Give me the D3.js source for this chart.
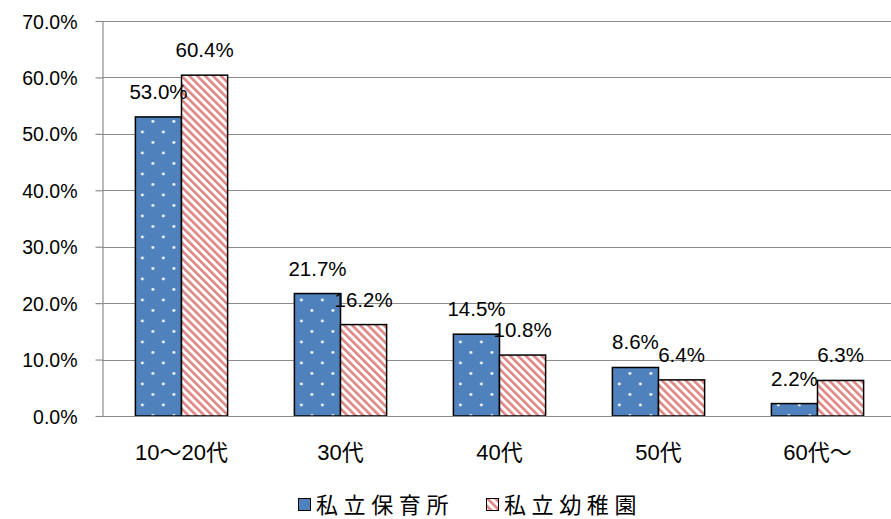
<!DOCTYPE html>
<html>
<head>
<meta charset="utf-8">
<script src="https://cdn.jsdelivr.net/npm/d3@7"></script>
<style>
  body { margin: 0; background: #fff; }
  svg { display: block; }
</style>
</head>
<body>
<svg id="chart" width="891" height="519"></svg>
<script>
// Age groups and share of staff per facility type (%)
const categories = ["10〜20代", "30代", "40代", "50代", "60代〜"];
const seriesNames = ["私立保育所", "私立幼稚園"];
const hoikusho = [53.0, 21.7, 14.5, 8.6, 2.2];
const youchien = [60.4, 16.2, 10.8, 6.4, 6.3];
const yTicks = [0, 10, 20, 30, 40, 50, 60, 70];

const series = [hoikusho, youchien];
const fills = ["url(#dots)", "url(#stripes)"];

const svg = d3.select("#chart");
const plotLeft = 102, plotRight = 897, plotTop = 21, plotBottom = 416;
const font = "'Liberation Sans', 'Noto Sans CJK JP', sans-serif";

const defs = svg.append("defs");
// blue with white dot grid
const dots = defs.append("pattern").attr("id", "dots")
  .attr("patternUnits", "userSpaceOnUse").attr("width", 21).attr("height", 21);
dots.append("rect").attr("width", 21).attr("height", 21).attr("fill", "#4F81BD");
[[7, 6], [17.5, 16.5]].forEach(([cx, cy]) =>
  dots.append("circle").attr("cx", cx).attr("cy", cy).attr("r", 1.4).attr("fill", "#fff"));
// pink diagonal stripes
const stripes = defs.append("pattern").attr("id", "stripes")
  .attr("patternUnits", "userSpaceOnUse").attr("width", 5.6).attr("height", 5.6)
  .attr("patternTransform", "rotate(-45)");
stripes.append("rect").attr("width", 5.6).attr("height", 5.6).attr("fill", "#fff");
stripes.append("rect").attr("width", 2.6).attr("height", 5.6).attr("fill", "#DE8583");

const x = d3.scaleBand().domain(categories).range([plotLeft, plotRight]).paddingInner(0.42).paddingOuter(0.21);
const xs = d3.scaleBand().domain(d3.range(seriesNames.length)).range([0, x.bandwidth()]);
const y = d3.scaleLinear().domain([0, 70]).range([plotBottom, plotTop]);

// gridlines
svg.append("g").selectAll("line").data(yTicks.filter(d => d > 0)).join("line")
  .attr("x1", plotLeft).attr("x2", 891)
  .attr("y1", d => Math.round(y(d)) + 0.5).attr("y2", d => Math.round(y(d)) + 0.5)
  .attr("stroke", "#8c8c8c").attr("stroke-width", 1.2);

// y axis
const yAxis = svg.append("g").attr("transform", `translate(${plotLeft + 0.5},0)`)
  .call(d3.axisLeft(y).tickValues(yTicks).tickFormat(d => d.toFixed(1) + "%").tickSize(7).tickSizeOuter(0));
yAxis.select(".domain").attr("stroke", "#8c8c8c").attr("stroke-width", 1.2);
yAxis.selectAll(".tick line").attr("stroke", "#8c8c8c").attr("stroke-width", 1.2);
yAxis.selectAll(".tick text").attr("x", -25).attr("dy", "0.36em")
  .attr("font-size", 19.5).attr("font-family", font).attr("fill", "#000");

// bars
const groups = svg.append("g").selectAll("g").data(categories).join("g")
  .attr("transform", d => `translate(${x(d)},0)`);
groups.each(function(c, i) {
  const g = d3.select(this);
  series.forEach((vals, s) => {
    g.append("rect")
      .attr("x", xs(s)).attr("width", xs.bandwidth())
      .attr("y", y(vals[i])).attr("height", y(0) - y(vals[i]))
      .attr("fill", fills[s]).attr("stroke", "#000").attr("stroke-width", 1.5);
  });
});

// x baseline
svg.append("line").attr("x1", plotLeft).attr("x2", 891)
  .attr("y1", plotBottom + 0.5).attr("y2", plotBottom + 0.5)
  .attr("stroke", "#8c8c8c").attr("stroke-width", 1.2);

// value labels
groups.each(function(c, i) {
  const g = d3.select(this);
  series.forEach((vals, s) => {
    g.append("text")
      .attr("x", xs(s) + xs.bandwidth() / 2)
      .attr("y", y(vals[i]) - 18)
      .attr("text-anchor", "middle")
      .attr("font-size", 20.5).attr("font-family", font).attr("fill", "#000")
      .text(vals[i].toFixed(1) + "%");
  });
});

// category labels
svg.append("g").selectAll("text").data(categories).join("text")
  .attr("x", d => x(d) + x.bandwidth() / 2).attr("y", 460)
  .attr("text-anchor", "middle").attr("font-size", 22).attr("font-family", font).attr("fill", "#000")
  .text(d => d);

// legend
const legendItems = [{ name: seriesNames[0], fill: "#4F81BD", x: 298 }, { name: seriesNames[1], fill: "url(#stripes)", x: 486 }];
const lg = svg.append("g").selectAll("g").data(legendItems).join("g")
  .attr("transform", d => `translate(${d.x},0)`);
lg.append("rect").attr("x", 0.5).attr("y", 498.5).attr("width", 12).attr("height", 12)
  .attr("fill", d => d.fill).attr("stroke", "#000").attr("stroke-width", 1);
lg.append("text").attr("x", 18).attr("y", 513).attr("font-size", 22)
  .attr("font-family", "'Noto Sans CJK JP', sans-serif").attr("fill", "#000")
  .attr("letter-spacing", 5.6).text(d => d.name);
</script>
</body>
</html>
